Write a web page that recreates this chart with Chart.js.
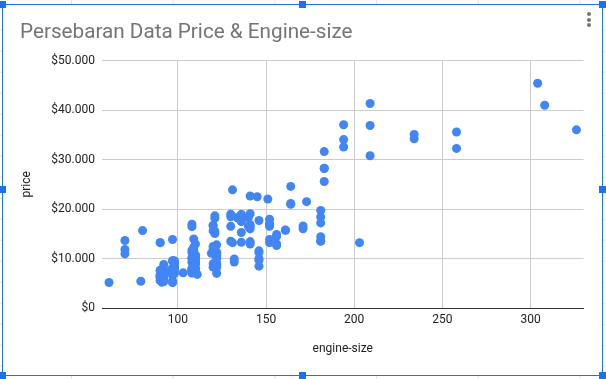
<!DOCTYPE html>
<html>
<head>
<meta charset="utf-8">
<script src="https://cdn.jsdelivr.net/npm/chart.js@4.4.1/dist/chart.umd.min.js"></script>
<style>
	html, body { margin: 0; padding: 0; }
	body {
		width: 606px; height: 379px; position: relative; overflow: hidden;
		background-color: #fff;
		background-image:
			linear-gradient(to right, #e2e2e2 1px, transparent 1px),
			linear-gradient(to bottom, #e2e2e2 1px, transparent 1px);
		background-size: 101.7px 100%, 100% 21px;
		background-position: 71px 0, 0 8.7px;
	}
	.sheet-chart { position: absolute; left: 2px; top: 4px; width: 601px; height: 372px; background: #fff; }
	#chart { position: absolute; left: 0; top: 0; }
	.frame { position: absolute; left: 2px; top: 4px; width: 601px; height: 372px; box-sizing: border-box; border: 1px solid #1a73e8; pointer-events: none; }
	.handle { position: absolute; width: 7px; height: 7px; background: #1a73e8; margin: -4px 0 0 -4px; }
	.dot { position: absolute; width: 4px; height: 4px; border-radius: 50%; background: #757575; left: 587px; }
</style>
</head>
<body>
<div class="sheet-chart"></div>
<canvas id="chart" width="606" height="379"></canvas>
<div class="frame"></div>
<div class="handle" style="left:3px;top:4.5px"></div>
<div class="handle" style="left:302.5px;top:4.5px"></div>
<div class="handle" style="left:602.5px;top:4.5px"></div>
<div class="handle" style="left:3px;top:189.5px"></div>
<div class="handle" style="left:602.5px;top:189.5px"></div>
<div class="handle" style="left:3px;top:375.5px"></div>
<div class="handle" style="left:302.5px;top:375.5px"></div>
<div class="handle" style="left:602.5px;top:375.5px"></div>
<div class="dot" style="top:12px"></div>
<div class="dot" style="top:17.5px"></div>
<div class="dot" style="top:23px"></div>
<script>
	var chartTitle = 'Persebaran Data Price & Engine-size';

	var engineSize = [
		130, 130, 152, 109, 136, 136, 136, 136, 131, 131, 108, 108, 164, 164, 164, 209, 209, 209, 61, 90,
		90, 90, 90, 98, 90, 90, 90, 98, 122, 156, 92, 92, 79, 92, 92, 92, 92, 110, 110, 110,
		110, 110, 110, 111, 90, 90, 119, 258, 258, 326, 91, 91, 91, 91, 91, 70, 70, 70, 80, 122,
		122, 122, 122, 122, 122, 140, 134, 183, 183, 183, 183, 234, 234, 308, 304, 140, 92, 92, 92, 98,
		110, 122, 156, 156, 156, 122, 122, 110, 110, 97, 103, 97, 97, 97, 97, 97, 97, 97, 120, 120,
		97, 181, 181, 181, 181, 181, 181, 120, 152, 120, 152, 120, 152, 120, 152, 120, 152, 134, 90, 98,
		90, 90, 90, 98, 122, 151, 194, 194, 194, 203, 132, 132, 121, 121, 121, 121, 121, 121, 97, 108,
		108, 108, 108, 108, 108, 108, 108, 108, 108, 108, 92, 92, 92, 92, 92, 92, 98, 98, 110, 110,
		98, 98, 98, 98, 98, 98, 98, 146, 146, 146, 146, 146, 146, 122, 110, 122, 122, 122, 171, 171,
		161, 161, 97, 109, 97, 109, 109, 97, 109, 109, 109, 136, 97, 109, 141, 141, 141, 141, 130, 130,
		141, 141, 173, 145, 141
	];

	var price = [
		13495, 16500, 16500, 13950, 17450, 15250, 17710, 18920, 23875, 13207, 16430, 16925, 20970, 21105, 24565, 30760, 41315, 36880, 5151, 6295,
		6575, 5572, 6377, 7957, 6229, 6692, 7609, 8558, 8921, 12964, 6479, 6855, 5399, 6529, 7129, 7295, 7295, 7895, 9095, 8845,
		10295, 12945, 10345, 6785, 13207, 13207, 11048, 32250, 35550, 36000, 5195, 6095, 6795, 6695, 7395, 10945, 11845, 13645, 15645, 8845,
		8495, 10595, 10245, 10795, 11245, 18280, 18344, 25552, 28248, 28176, 31600, 34184, 35056, 40960, 45400, 16503, 5389, 6189, 6669, 7689,
		9959, 8499, 12629, 14869, 14489, 6989, 8189, 9279, 9279, 5499, 7099, 6649, 6849, 7349, 7299, 7799, 7499, 7999, 8249, 8949,
		9549, 13499, 14399, 13499, 17199, 19699, 18399, 11900, 13200, 12440, 13860, 15580, 16900, 16695, 17075, 16630, 17950, 18150, 5572, 7957,
		6229, 6692, 7609, 8921, 12764, 22018, 32528, 34028, 37028, 13207, 9295, 9895, 11850, 12170, 15040, 15510, 18150, 18620, 5118, 7053,
		7603, 7126, 7775, 9960, 9233, 11259, 7463, 10198, 8013, 11694, 5348, 6338, 6488, 6918, 7898, 8778, 6938, 7198, 7898, 7788,
		7738, 8358, 9258, 8058, 8238, 9298, 9538, 8449, 9639, 9989, 11199, 11549, 17669, 8948, 10698, 9988, 10898, 11248, 16558, 15998,
		15690, 15750, 7775, 7975, 7995, 8195, 8495, 9495, 9995, 11595, 9980, 13295, 13845, 12290, 12940, 13415, 15985, 16515, 18420, 18950,
		16845, 19045, 21485, 22470, 22625
	];

	var xTicks = [100, 150, 200, 250, 300];
	var yTicks = [0, 10000, 20000, 30000, 40000, 50000];

	function rupiahDollar(v) {
		return '$' + String(v).replace(/\B(?=(\d{3})+(?!\d))/g, '.');
	}

	var points = [];
	for (var i = 0; i < engineSize.length; i++) {
		points.push({x: engineSize[i], y: price[i]});
	}

	var font12 = {family: 'Roboto', size: 12};

	new Chart(document.getElementById('chart'), {
		type: 'scatter',
		data: {
			datasets: [{
				label: 'price',
				data: points,
				backgroundColor: '#4285f4',
				borderWidth: 0,
				pointRadius: 4.5,
				pointHoverRadius: 4.5
			}]
		},
		options: {
			responsive: false,
			animation: false,
			devicePixelRatio: 1,
			events: [],
			layout: {padding: {left: 20, right: 22.5, top: 0, bottom: 0}},
			plugins: {
				legend: {display: false},
				tooltip: {enabled: false},
				title: {
					display: true,
					text: chartTitle,
					align: 'start',
					color: '#757575',
					font: {family: 'Roboto', size: 20.7, weight: 'normal'},
					padding: {top: 20.5, bottom: 15.2}
				}
			},
			scales: {
				x: {
					type: 'linear',
					min: 57,
					max: 330,
					afterBuildTicks: function(scale) {
						scale.ticks = xTicks.map(function(v) { return {value: v}; });
					},
					afterFit: function(scale) { scale.height = 71; },
					grid: {color: '#cccccc', drawTicks: false},
					border: {display: true, color: '#333333', width: 1},
					ticks: {padding: 4.5, color: '#222222', font: font12},
					title: {display: true, text: 'engine-size', color: '#222222', font: font12, padding: {top: 0, bottom: 23.3}}
				},
				y: {
					type: 'linear',
					min: 0,
					max: 50000,
					afterBuildTicks: function(scale) {
						scale.ticks = yTicks.map(function(v) { return {value: v}; });
					},
					afterFit: function(scale) { scale.width = 82; },
					grid: {color: '#cccccc', drawTicks: false},
					border: {display: false},
					ticks: {padding: 7, color: '#222222', font: font12, callback: rupiahDollar},
					title: {display: true, text: 'price', color: '#222222', font: font12, padding: {top: 0, bottom: 0}}
				}
			}
		}
	});
</script>
</body>
</html>
